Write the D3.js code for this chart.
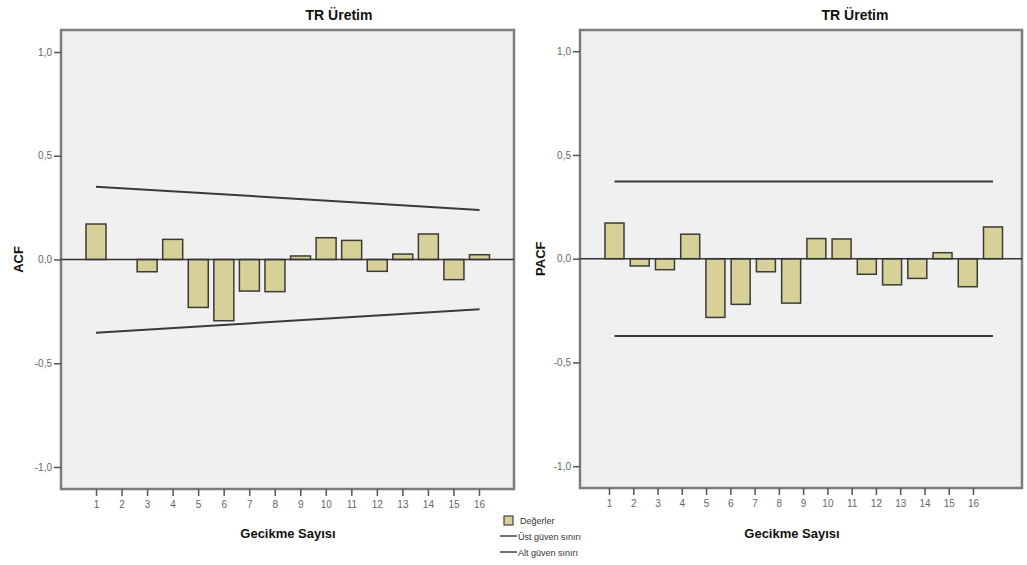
<!DOCTYPE html>
<html>
<head>
<meta charset="utf-8">
<script src="https://cdn.jsdelivr.net/npm/d3@7"></script>
<style>
  body { margin: 0; background: #fff; }
  text { font-family: Arial, "Liberation Sans", sans-serif; }
</style>
</head>
<body>
<svg id="chart" width="1027" height="565"></svg>
<script>
const lags = [1, 2, 3, 4, 5, 6, 7, 8, 9, 10, 11, 12, 13, 14, 15, 16];
const acfValues = [0.171, 0.0, -0.059, 0.097, -0.231, -0.295, -0.152, -0.155, 0.017, 0.105, 0.092, -0.057, 0.026, 0.123, -0.097, 0.023];
const acfUpper = [0.351, 0.239];   // at lag 1 and lag 16
const acfLower = [-0.353, -0.240];
const pacfValues = [0.172, -0.035, -0.053, 0.118, -0.283, -0.220, -0.063, -0.214, 0.097, 0.095, -0.075, -0.126, -0.095, 0.029, -0.135, 0.153];
const pacfUpper = [0.372, 0.372];
const pacfLower = [-0.372, -0.372];
const yTicks = [-1.0, -0.5, 0.0, 0.5, 1.0];
const legendItems = ['Değerler', 'Üst güven sınırı', 'Alt güven sınırı'];

const svg = d3.select('#chart');
const fmt = d => d.toFixed(1).replace('.', ',');

function drawPanel(cfg) {
    const g = svg.append('g');

    const y = d3.scaleLinear().domain([-1, 1]).range([cfg.y0 + 207.5, cfg.y0 - 207.5]);
    const xBar = d3.scaleLinear().domain([1, 16]).range(cfg.barRange);
    const xTick = d3.scaleLinear().domain([1, 16]).range(cfg.tickRange);

    // plot background + frame
    g.append('rect')
        .attr('x', cfg.left).attr('y', cfg.top)
        .attr('width', cfg.right - cfg.left).attr('height', cfg.bottom - cfg.top)
        .attr('fill', '#f0f0f0')
        .attr('stroke', '#7c7c7c')
        .attr('stroke-width', 2.5);

    // y axis
    const yAxis = g.append('g')
        .attr('transform', `translate(${cfg.left},0)`)
        .call(d3.axisLeft(y).tickValues(yTicks).tickFormat(fmt).tickSize(7).tickPadding(2));
    yAxis.select('.domain').remove();
    yAxis.selectAll('line').attr('stroke', '#555').attr('stroke-width', 1.5);
    yAxis.selectAll('text').attr('fill', '#666').style('font-size', '10px');

    // x axis
    const xAxis = g.append('g')
        .attr('transform', `translate(0,${cfg.bottom})`)
        .call(d3.axisBottom(xTick).tickValues(lags).tickFormat(d3.format('d')).tickSize(7).tickPadding(5));
    xAxis.select('.domain').remove();
    xAxis.selectAll('line').attr('stroke', '#555').attr('stroke-width', 1.5);
    xAxis.selectAll('text').attr('fill', '#666').style('font-size', '10px');

    // bars
    const bw = cfg.barWidth;
    g.selectAll('rect.bar')
        .data(cfg.values)
        .enter()
        .append('rect')
        .attr('class', 'bar')
        .attr('x', (d, i) => xBar(lags[i]) - bw / 2)
        .attr('y', d => y(Math.max(0, d)))
        .attr('width', bw)
        .attr('height', d => Math.abs(y(d) - y(0)))
        .attr('fill', '#d7d199')
        .attr('stroke', '#3b3b33')
        .attr('stroke-width', 1.5);

    // zero line
    g.append('line')
        .attr('x1', cfg.left).attr('x2', cfg.right)
        .attr('y1', y(0)).attr('y2', y(0))
        .attr('stroke', '#333').attr('stroke-width', 1.5);

    // confidence limits
    [cfg.upper, cfg.lower].forEach(lim => {
        g.append('line')
            .attr('x1', xBar(1)).attr('x2', xBar(16))
            .attr('y1', y(lim[0])).attr('y2', y(lim[1]))
            .attr('stroke', '#3a3a3a').attr('stroke-width', 2);
    });

    // titles
    g.append('text')
        .attr('x', cfg.titleX).attr('y', 20)
        .attr('text-anchor', 'middle')
        .style('font-size', '14px').style('font-weight', 'bold')
        .attr('fill', '#111')
        .text('TR Üretim');

    g.append('text')
        .attr('x', cfg.xTitleX).attr('y', 538)
        .attr('text-anchor', 'middle')
        .style('font-size', '13px').style('font-weight', 'bold')
        .attr('fill', '#111')
        .text('Gecikme Sayısı');

    g.append('text')
        .attr('transform', `translate(${cfg.yTitleX},${cfg.y0}) rotate(-90)`)
        .attr('text-anchor', 'middle')
        .attr('dy', '0.35em')
        .style('font-size', '13px').style('font-weight', 'bold')
        .attr('fill', '#111')
        .text(cfg.yTitle);
}

drawPanel({
    left: 61, right: 514, top: 30, bottom: 489, y0: 259.5,
    barRange: [96, 479.5], tickRange: [96, 479], barWidth: 20,
    values: acfValues, upper: acfUpper, lower: acfLower,
    titleX: 339, xTitleX: 288, yTitleX: 18, yTitle: 'ACF'
});

drawPanel({
    left: 580, right: 1022, top: 30, bottom: 488, y0: 258.7,
    barRange: [614.5, 993], tickRange: [609, 973], barWidth: 19,
    values: pacfValues, upper: pacfUpper, lower: pacfLower,
    titleX: 855, xTitleX: 792, yTitleX: 540, yTitle: 'PACF'
});

// legend
const legend = svg.append('g').attr('transform', 'translate(500,516)');
legend.append('rect')
    .attr('x', 4).attr('y', 0).attr('width', 9).attr('height', 9)
    .attr('fill', '#d7d199').attr('stroke', '#444').attr('stroke-width', 1.2);
legend.selectAll('line.leg')
    .data(legendItems.slice(1))
    .enter()
    .append('line')
    .attr('class', 'leg')
    .attr('x1', 0).attr('x2', 17)
    .attr('y1', (d, i) => 20 + i * 16).attr('y2', (d, i) => 20 + i * 16)
    .attr('stroke', '#444').attr('stroke-width', 1.5);
legend.selectAll('text')
    .data(legendItems)
    .enter()
    .append('text')
    .attr('x', (d, i) => i === 0 ? 20 : 18)
    .attr('y', (d, i) => 8 + i * 16)
    .style('font-size', '9px')
    .attr('fill', '#333')
    .text(d => d);
</script>
</body>
</html>
